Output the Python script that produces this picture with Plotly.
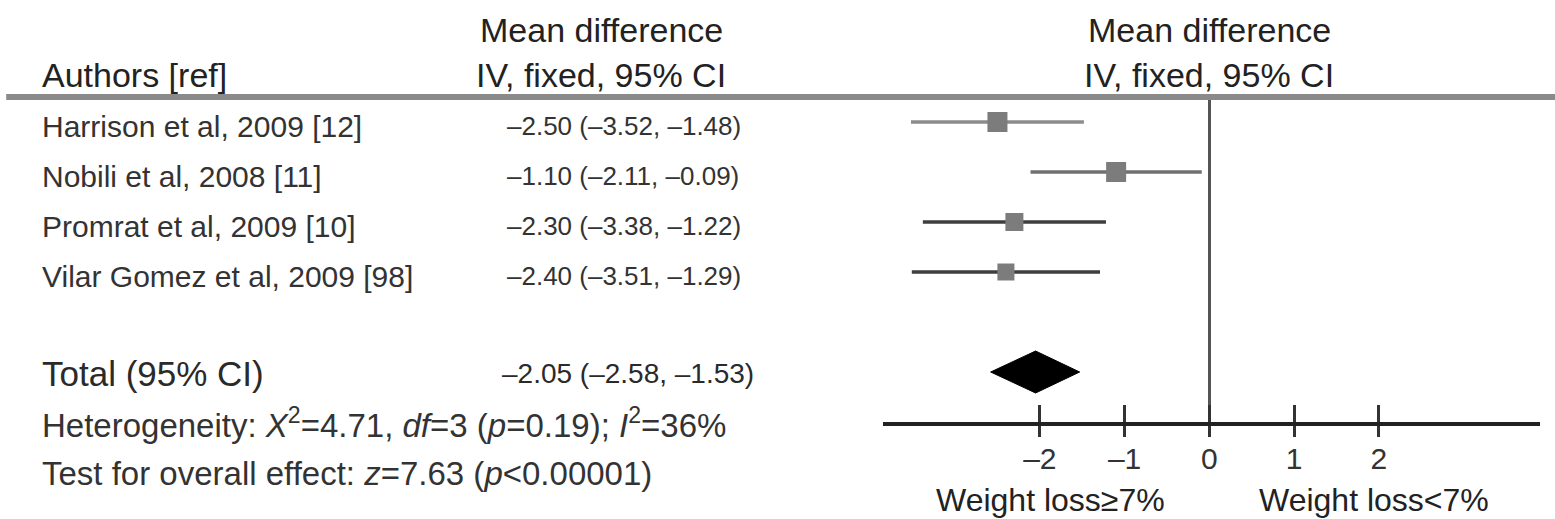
import plotly.graph_objects as go

# ---------------- data ----------------
studies = ["Harrison et al, 2009 [12]", "Nobili et al, 2008 [11]",
           "Promrat et al, 2009 [10]", "Vilar Gomez et al, 2009 [98]"]
means = [-2.50, -1.10, -2.30, -2.40]
lowers = [-3.52, -2.11, -3.38, -3.51]
uppers = [-1.48, -0.09, -1.22, -1.29]

total_label = "Total (95% CI)"
total_mean = -2.05
total_lower = -2.58
total_upper = -1.53

tick_vals = [-2, -1, 0, 1, 2]
tick_text = ["\u20132", "\u20131", "0", "1", "2"]

header_col1 = "Authors [ref]"
header_col2 = ["Mean difference", "IV, fixed, 95% CI"]
favours = ["Weight loss\u22657%", "Weight loss&lt;7%"]
heterogeneity = "Heterogeneity: <i>\u03a7</i><sup>2</sup>=4.71, <i>df</i>=3 (<i>p</i>=0.19); <i>I</i><sup>2</sup>=36%"
overall = "Test for overall effect: <i>z</i>=7.63 (<i>p</i>&lt;0.00001)"

# ---------------- styles ----------------
W, H = 1555, 519
FONT = "Liberation Sans, Arial, Helvetica, sans-serif"
sq_sizes = [20, 20, 18, 17]
ci_colors = ["#8c8c8c", "#707070", "#3e3e3e", "#3e3e3e"]
sq_color = "#7c7c7c"
txt_color = "#333333"
row_index = list(range(len(studies)))
total_index = len(studies) + 1


def fmt(v):
    return f"{v:.2f}".replace("-", "\u2013")


def px_y(ypx):
    return 1 - ypx / H


fig = go.Figure()

for i in row_index:
    fig.add_trace(go.Scatter(
        x=[means[i]], y=[i], mode="markers",
        marker=dict(symbol="square", size=sq_sizes[i], color=sq_color, line=dict(width=0)),
        error_x=dict(type="data", symmetric=False,
                     array=[uppers[i] - means[i]], arrayminus=[means[i] - lowers[i]],
                     width=0, thickness=3.5, color=ci_colors[i]),
        showlegend=False, hoverinfo="skip"))

half_h = 0.42
fig.add_trace(go.Scatter(
    x=[total_lower, total_mean, total_upper, total_mean, total_lower],
    y=[total_index, total_index - half_h, total_index, total_index + half_h, total_index],
    mode="lines", fill="toself", fillcolor="#000000",
    line=dict(color="#000000", width=1), showlegend=False, hoverinfo="skip"))

# hidden trace for the upward tick axis
fig.add_trace(go.Scatter(x=[0], y=[0], xaxis="x2", mode="markers",
                         marker=dict(opacity=0), showlegend=False, hoverinfo="skip"))

ann = []
# headers
ann.append(dict(text=header_col1, x=40 / W, y=px_y(75), xref="paper", yref="paper",
                xanchor="left", yanchor="middle", showarrow=False,
                font=dict(size=34, color="#222222", family=FONT)))
for j, t in enumerate(header_col2):
    ann.append(dict(text=t, x=601 / W, y=px_y([30, 75][j]), xref="paper", yref="paper",
                    xanchor="center", yanchor="middle", showarrow=False,
                    font=dict(size=34, color="#222222", family=FONT)))
    ann.append(dict(text=t, x=0, y=px_y([30, 75][j]), xref="x", yref="paper",
                    xanchor="center", yanchor="middle", showarrow=False,
                    font=dict(size=34, color="#222222", family=FONT)))
# study rows
for i in row_index:
    ann.append(dict(text=studies[i], x=40 / W, y=i, xref="paper", yref="y",
                    xanchor="left", yanchor="middle", showarrow=False, yshift=-4,
                    font=dict(size=30, color=txt_color, family=FONT)))
    ann.append(dict(text=f"{fmt(means[i])} ({fmt(lowers[i])}, {fmt(uppers[i])})",
                    x=505 / W, y=i, xref="paper", yref="y",
                    xanchor="left", yanchor="middle", showarrow=False, yshift=-4,
                    font=dict(size=26, color=txt_color, family=FONT)))
# total row
ann.append(dict(text=total_label, x=40 / W, y=total_index, xref="paper", yref="y",
                xanchor="left", yanchor="middle", showarrow=False, yshift=-1,
                font=dict(size=35, color="#2a2a2a", family=FONT)))
ann.append(dict(text=f"{fmt(total_mean)} ({fmt(total_lower)}, {fmt(total_upper)})",
                x=500 / W, y=total_index, xref="paper", yref="y",
                xanchor="left", yanchor="middle", showarrow=False, yshift=-1,
                font=dict(size=28, color="#2a2a2a", family=FONT)))
# statistics
ann.append(dict(text=heterogeneity, x=40 / W, y=px_y(423), xref="paper", yref="paper",
                xanchor="left", yanchor="middle", showarrow=False,
                font=dict(size=33, color=txt_color, family=FONT)))
ann.append(dict(text=overall, x=40 / W, y=px_y(473), xref="paper", yref="paper",
                xanchor="left", yanchor="middle", showarrow=False,
                font=dict(size=33, color=txt_color, family=FONT)))
# favours labels
for t, xc in zip(favours, [-1.88, 1.94]):
    ann.append(dict(text=t, x=xc, y=px_y(500), xref="x", yref="paper",
                    xanchor="center", yanchor="middle", showarrow=False,
                    font=dict(size=32, color="#222222", family=FONT)))

x_dom = [883 / W, 1540 / W]
x_rng = [-3.85, 3.90]

fig.update_layout(
    width=W, height=H, margin=dict(l=0, r=0, t=0, b=0),
    paper_bgcolor="white", plot_bgcolor="white", showlegend=False,
    font=dict(family=FONT, color=txt_color),
    annotations=ann,
    shapes=[dict(type="line", xref="paper", yref="paper", x0=0.004, x1=1.0,
                 y0=px_y(97), y1=px_y(97), line=dict(color="#8a8a8a", width=6))],
    xaxis=dict(domain=x_dom, range=x_rng, anchor="y", side="bottom",
               tickmode="array", tickvals=tick_vals, ticktext=tick_text,
               ticks="outside", ticklen=11, tickwidth=3, tickcolor="#333333",
               tickfont=dict(size=30, color="#333333", family=FONT),
               ticklabelstandoff=-4,
               showline=True, linecolor="#222222", linewidth=4,
               zeroline=True, zerolinecolor="#555555", zerolinewidth=3,
               showgrid=False, fixedrange=True),
    xaxis2=dict(domain=x_dom, range=x_rng, anchor="y", overlaying="x", side="bottom",
                tickmode="array", tickvals=tick_vals, ticks="inside", ticklen=17,
                tickwidth=3, tickcolor="#333333", showticklabels=False,
                showline=False, zeroline=False, showgrid=False, fixedrange=True),
    yaxis=dict(domain=[px_y(422), px_y(97)], range=[6.0, -0.5], visible=False,
               fixedrange=True),
)

fig.write_html("out.html", config={"displayModeBar": False},
               post_script="document.body.style.margin='0';document.body.style.overflow='hidden';")
